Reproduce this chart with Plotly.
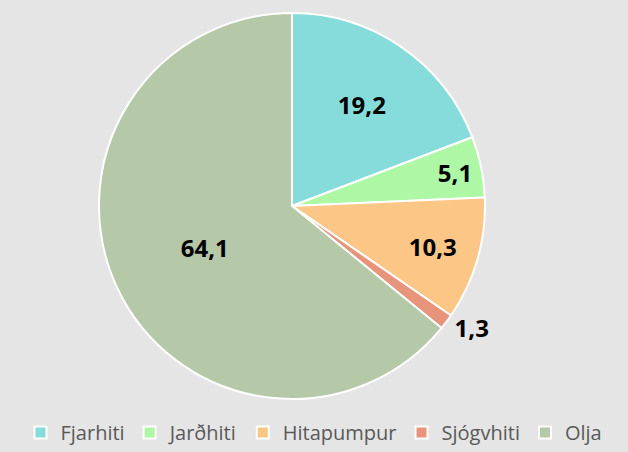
import plotly.graph_objects as go

labels = ["Fjarhiti", "Jarðhiti", "Hitapumpur", "Sjógvhiti", "Olja"]
values = [19.2, 5.1, 10.3, 1.3, 64.1]
colors = ["#86dcda", "#adf7a5", "#fcc686", "#e8947a", "#b5c8a7"]
positions = ["inside", "inside", "inside", "outside", "inside"]

W, H = 628, 452
fig = go.Figure(go.Pie(
    labels=labels,
    values=values,
    sort=False,
    direction="clockwise",
    rotation=0,
    marker=dict(colors=colors, line=dict(color="white", width=2)),
    texttemplate="%{value:.1f}",
    textposition=positions,
    textfont=dict(family="Open Sans", size=24, color="black", weight="bold"),
    insidetextorientation="horizontal",
    domain=dict(x=[99 / W, 485 / W], y=[53 / H, 439 / H]),
    hoverinfo="label+value",
))

fig.update_layout(
    width=W, height=H,
    separators=", ",
    paper_bgcolor="#e5e5e5",
    plot_bgcolor="#e5e5e5",
    margin=dict(l=0, r=0, t=0, b=0),
    showlegend=True,
    legend=dict(
        orientation="h",
        x=0.5, xanchor="center",
        y=0.0, yanchor="bottom",
        font=dict(family="Open Sans", size=20, color="#595959"),
        itemwidth=30,
        bgcolor="rgba(0,0,0,0)",
    ),
)

fig.write_html(
    "out.html",
    config={"displayModeBar": False},
    post_script="document.body.style.margin='0';document.body.style.background='#e5e5e5';",
)
